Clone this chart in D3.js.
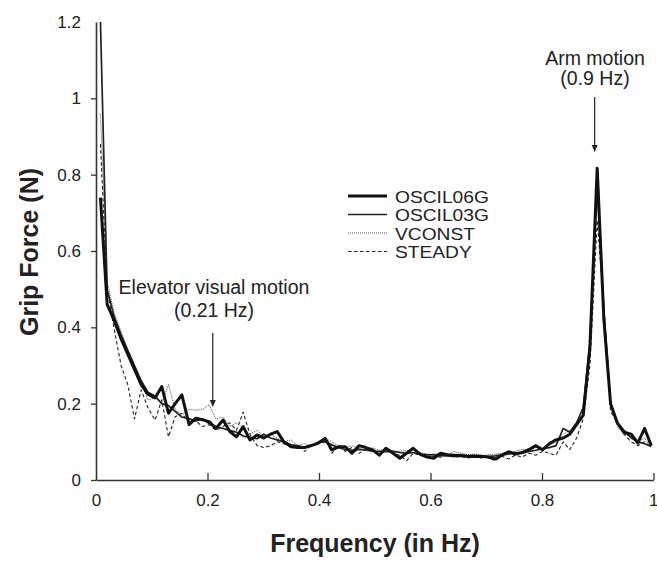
<!DOCTYPE html>
<html>
<head>
<meta charset="utf-8">
<script src="https://cdn.jsdelivr.net/npm/d3@7"></script>
<style>
  html, body { margin: 0; padding: 0; background: #fff; }
  svg { display: block; font-family: "Liberation Sans", Arial, sans-serif; }
</style>
</head>
<body>
<svg id="chart" width="657" height="561"></svg>
<script>
// Frequency bins (Hz)
const freqs = [0.008,0.020,0.032,0.045,0.057,0.069,0.081,0.093,0.106,0.118,
  0.130,0.142,0.154,0.167,0.179,0.191,0.203,0.215,0.228,0.240,
  0.252,0.264,0.276,0.289,0.301,0.313,0.325,0.337,0.350,0.362,
  0.374,0.386,0.398,0.411,0.423,0.435,0.447,0.459,0.472,0.484,
  0.496,0.508,0.520,0.533,0.545,0.557,0.569,0.581,0.594,0.606,
  0.618,0.630,0.642,0.655,0.667,0.679,0.691,0.703,0.716,0.728,
  0.740,0.752,0.764,0.777,0.789,0.801,0.813,0.825,0.838,0.850,
  0.862,0.874,0.886,0.899,0.911,0.923,0.935,0.947,0.960,0.972,
  0.984,0.996];

const oscil06g = [0.74,0.46,0.42,0.37,0.33,0.29,0.25,0.225,0.215,0.245,
  0.175,0.20,0.223,0.145,0.162,0.158,0.153,0.135,0.157,0.127,
  0.113,0.14,0.105,0.118,0.11,0.12,0.127,0.10,0.087,0.085,
  0.085,0.09,0.096,0.109,0.079,0.087,0.087,0.07,0.09,0.085,
  0.079,0.065,0.083,0.07,0.057,0.07,0.083,0.068,0.06,0.057,
  0.07,0.066,0.065,0.064,0.062,0.063,0.062,0.06,0.055,0.065,
  0.074,0.068,0.072,0.08,0.09,0.079,0.095,0.105,0.11,0.12,
  0.145,0.17,0.35,0.817,0.42,0.2,0.15,0.125,0.12,0.097,
  0.135,0.09];

const oscil03g = [1.2,0.50,0.43,0.38,0.34,0.30,0.26,0.23,0.22,0.20,
  0.195,0.18,0.165,0.16,0.155,0.16,0.148,0.14,0.135,0.13,
  0.125,0.115,0.112,0.108,0.12,0.11,0.105,0.10,0.092,0.09,
  0.085,0.09,0.098,0.10,0.092,0.085,0.08,0.078,0.08,0.078,
  0.076,0.075,0.074,0.075,0.072,0.07,0.072,0.068,0.066,0.066,
  0.064,0.063,0.062,0.062,0.061,0.06,0.06,0.062,0.063,0.066,
  0.068,0.072,0.07,0.075,0.078,0.082,0.085,0.09,0.135,0.125,
  0.15,0.19,0.36,0.78,0.44,0.2,0.15,0.13,0.11,0.10,
  0.095,0.088];

const vconst = [0.96,0.52,0.44,0.39,0.34,0.30,0.255,0.21,0.215,0.20,
  0.25,0.185,0.17,0.185,0.183,0.185,0.197,0.16,0.165,0.14,
  0.15,0.135,0.12,0.13,0.115,0.12,0.11,0.10,0.105,0.09,
  0.095,0.092,0.10,0.11,0.10,0.09,0.085,0.09,0.082,0.08,
  0.084,0.078,0.08,0.076,0.075,0.078,0.07,0.072,0.068,0.068,
  0.07,0.065,0.075,0.07,0.066,0.068,0.064,0.066,0.068,0.07,
  0.072,0.075,0.08,0.078,0.085,0.082,0.09,0.10,0.12,0.13,
  0.15,0.19,0.34,0.75,0.44,0.2,0.14,0.12,0.115,0.10,
  0.11,0.085];

const steady = [0.88,0.50,0.40,0.30,0.25,0.16,0.236,0.19,0.157,0.21,
  0.113,0.166,0.175,0.15,0.155,0.14,0.145,0.13,0.14,0.15,
  0.13,0.178,0.12,0.09,0.085,0.09,0.10,0.095,0.085,0.09,
  0.075,0.09,0.095,0.11,0.07,0.09,0.075,0.085,0.07,0.08,
  0.075,0.07,0.08,0.068,0.065,0.05,0.07,0.065,0.06,0.062,
  0.06,0.065,0.06,0.062,0.058,0.06,0.058,0.06,0.05,0.062,
  0.055,0.065,0.06,0.07,0.065,0.075,0.07,0.065,0.10,0.08,
  0.11,0.16,0.30,0.68,0.46,0.18,0.15,0.12,0.10,0.09,
  0.10,0.085];

const seriesNames = ["OSCIL06G", "OSCIL03G", "VCONST", "STEADY"];
const seriesValues = [oscil06g, oscil03g, vconst, steady];

const xTicks = [0, 0.2, 0.4, 0.6, 0.8, 1];
const yTicks = [0, 0.2, 0.4, 0.6, 0.8, 1, 1.2];

// styles per series
const styles = [
  { w: 3.0, dash: null, color: "#111" },
  { w: 1.7, dash: null, color: "#222" },
  { w: 1.0, dash: "1,1", color: "#555" },
  { w: 1.1, dash: "3.5,2.5", color: "#222" }
];

const svg = d3.select("#chart");
const x = d3.scaleLinear().domain([0, 1]).range([96, 653.5]);
const y = d3.scaleLinear().domain([0, 1.2]).range([480, 22]);

const line = d3.line().x(d => x(d[0])).y(d => y(d[1]));

const order = [3, 2, 1, 0];
order.forEach(i => {
  const pts = freqs.map((f, j) => [f, seriesValues[i][j]]);
  svg.append("path")
    .datum(pts)
    .attr("fill", "none")
    .attr("stroke", styles[i].color)
    .attr("stroke-width", styles[i].w)
    .attr("stroke-linejoin", "round")
    .attr("stroke-dasharray", styles[i].dash)
    .attr("d", line);
});

// axes
const axisColor = "#333";
const yAxis = svg.append("g")
  .attr("transform", `translate(${x(0)},0)`)
  .call(d3.axisLeft(y).tickValues(yTicks).tickSize(5).tickSizeOuter(0)
    .tickPadding(10).tickFormat(d3.format("")));
const xAxis = svg.append("g")
  .attr("transform", `translate(0,${y(0)})`)
  .call(d3.axisBottom(x).tickValues(xTicks).tickSize(-7).tickSizeOuter(0)
    .tickPadding(14).tickFormat(d3.format("")));

[yAxis, xAxis].forEach(g => {
  g.select(".domain").attr("stroke", axisColor).attr("stroke-width", 1.6);
  g.selectAll(".tick line").attr("stroke", axisColor).attr("stroke-width", 1.3);
  g.selectAll(".tick text").attr("fill", "#222").style("font-size", "17px")
    .style("font-family", "Liberation Sans, Arial, sans-serif");
});
yAxis.selectAll(".tick").filter(d => d === 1.2).select("line").remove();
xAxis.selectAll(".tick").filter(d => d === 0).select("line").remove();
xAxis.selectAll(".tick").filter(d => d === 1).select("text").attr("text-anchor", "end").attr("dx", "4.5");

// axis titles
svg.append("text")
  .attr("x", 375).attr("y", 552)
  .attr("text-anchor", "middle")
  .style("font-size", "25px").style("font-weight", "bold").attr("fill", "#222")
  .text("Frequency (in Hz)");

svg.append("text")
  .attr("transform", "translate(38,252) rotate(-90)")
  .attr("text-anchor", "middle")
  .style("font-size", "25px").style("font-weight", "bold").attr("fill", "#222")
  .text("Grip Force (N)");

// legend
const legY = [201, 219.5, 238, 256.5];
seriesNames.forEach((name, i) => {
  svg.append("line")
    .attr("x1", 348).attr("x2", 387)
    .attr("y1", legY[i] - 5).attr("y2", legY[i] - 5)
    .attr("stroke", styles[i].color)
    .attr("stroke-width", styles[i].w)
    .attr("stroke-dasharray", styles[i].dash);
  svg.append("text")
    .attr("transform", `translate(395,${legY[i] + 1.5}) scale(1.2,1)`)
    .style("font-size", "16px").attr("fill", "#222")
    .text(name);
});

// annotations
function annotate(lines, cx, baselines, ax, y1, y2) {
  lines.forEach((t, i) => {
    svg.append("text").attr("x", cx).attr("y", baselines[i])
      .attr("text-anchor", "middle")
      .style("font-size", "19.5px").attr("fill", "#222").text(t);
  });
  svg.append("line").attr("x1", ax).attr("x2", ax).attr("y1", y1).attr("y2", y2 - 6)
    .attr("stroke", "#222").attr("stroke-width", 1.2);
  svg.append("path")
    .attr("d", `M${ax - 3},${y2 - 7} L${ax + 3},${y2 - 7} L${ax},${y2} Z`)
    .attr("fill", "#222");
}
annotate(["Arm motion", "(0.9 Hz)"], 595, [65, 85], x(0.8945), 97, 152);
annotate(["Elevator visual motion", "(0.21 Hz)"], 214, [294, 317], x(0.2095), 333, 407);
</script>
</body>
</html>
